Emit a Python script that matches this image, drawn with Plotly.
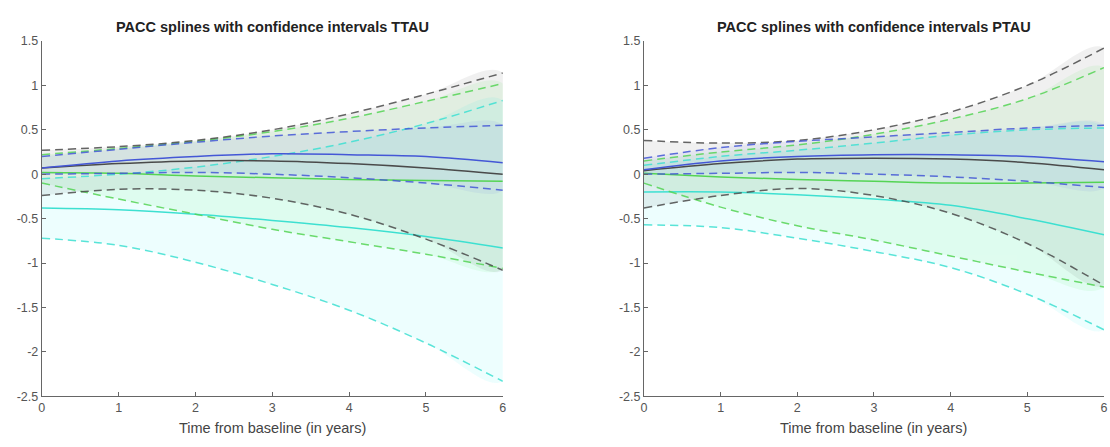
import plotly.graph_objects as go

years = [0, 1, 2, 3, 4, 5, 6]

# TTAU panel
ttau_blue_mean = [0.07, 0.15, 0.20, 0.23, 0.22, 0.20, 0.13]
ttau_blue_up = [0.20, 0.28, 0.36, 0.43, 0.48, 0.52, 0.55]
ttau_blue_lo = [0.00, 0.01, 0.02, 0.00, -0.04, -0.10, -0.18]
ttau_black_mean = [0.07, 0.12, 0.15, 0.15, 0.12, 0.07, 0.00]
ttau_black_up = [0.27, 0.31, 0.38, 0.50, 0.68, 0.90, 1.14]
ttau_black_lo = [-0.24, -0.17, -0.18, -0.27, -0.45, -0.73, -1.08]
ttau_green_mean = [0.02, 0.01, -0.02, -0.04, -0.06, -0.07, -0.08]
ttau_green_up = [0.22, 0.29, 0.37, 0.48, 0.63, 0.82, 1.02]
ttau_green_lo = [-0.10, -0.28, -0.45, -0.62, -0.76, -0.90, -1.06]
ttau_cyan_mean = [-0.38, -0.40, -0.45, -0.52, -0.60, -0.70, -0.83]
ttau_cyan_up = [-0.05, 0.00, 0.08, 0.20, 0.36, 0.57, 0.83]
ttau_cyan_lo = [-0.72, -0.80, -0.99, -1.24, -1.53, -1.90, -2.33]

# PTAU panel
ptau_blue_mean = [0.05, 0.15, 0.20, 0.22, 0.22, 0.20, 0.14]
ptau_blue_up = [0.18, 0.30, 0.37, 0.42, 0.47, 0.52, 0.55]
ptau_blue_lo = [0.00, 0.01, 0.02, 0.00, -0.03, -0.08, -0.15]
ptau_black_mean = [0.04, 0.12, 0.17, 0.18, 0.17, 0.13, 0.05]
ptau_black_up = [0.38, 0.35, 0.38, 0.50, 0.70, 1.00, 1.42]
ptau_black_lo = [-0.38, -0.24, -0.16, -0.24, -0.44, -0.78, -1.25]
ptau_green_mean = [0.01, -0.03, -0.06, -0.08, -0.10, -0.10, -0.09]
ptau_green_up = [0.15, 0.25, 0.33, 0.45, 0.62, 0.85, 1.20]
ptau_green_lo = [-0.10, -0.37, -0.58, -0.74, -0.92, -1.10, -1.27]
ptau_cyan_mean = [-0.20, -0.20, -0.23, -0.28, -0.35, -0.50, -0.68]
ptau_cyan_up = [0.10, 0.20, 0.27, 0.35, 0.44, 0.50, 0.52]
ptau_cyan_lo = [-0.57, -0.60, -0.72, -0.87, -1.05, -1.35, -1.75]

titles = ["PACC splines with confidence intervals TTAU",
          "PACC splines with confidence intervals PTAU"]
x_label = "Time from baseline (in years)"
y_tickvals = [1.5, 1, 0.5, 0, -0.5, -1, -1.5, -2, -2.5]
y_ticktext = ["1.5", "1", "0.5", "0", "-0.5", "-1", "-1.5", "-2", "-2.5"]
x_tickvals = [0, 1, 2, 3, 4, 5, 6]

line_colors = {"blue": "#4457d6", "black": "#4a4a4a", "green": "#55d455", "cyan": "#3fe0d2"}
fill_colors = {"blue": "rgba(60,80,230,0.07)", "black": "rgba(0,0,0,0.06)",
               "green": "rgba(40,220,40,0.07)", "cyan": "rgba(0,240,240,0.07)"}

panels = [
    {"blue": (ttau_blue_mean, ttau_blue_up, ttau_blue_lo),
     "black": (ttau_black_mean, ttau_black_up, ttau_black_lo),
     "green": (ttau_green_mean, ttau_green_up, ttau_green_lo),
     "cyan": (ttau_cyan_mean, ttau_cyan_up, ttau_cyan_lo)},
    {"blue": (ptau_blue_mean, ptau_blue_up, ptau_blue_lo),
     "black": (ptau_black_mean, ptau_black_up, ptau_black_lo),
     "green": (ptau_green_mean, ptau_green_up, ptau_green_lo),
     "cyan": (ptau_cyan_mean, ptau_cyan_up, ptau_cyan_lo)},
]

fig = go.Figure()
for i, panel in enumerate(panels):
    xa = "x" if i == 0 else "x2"
    ya = "y" if i == 0 else "y2"
    for key in ["cyan", "green", "black", "blue"]:
        mean, up, lo = panel[key]
        fig.add_trace(go.Scatter(x=years + years[::-1], y=up + lo[::-1], fill="toself",
                                 fillcolor=fill_colors[key], line=dict(width=0, shape="spline"),
                                 mode="lines", hoverinfo="skip", showlegend=False,
                                 xaxis=xa, yaxis=ya))
    for key in ["cyan", "green", "black", "blue"]:
        mean, up, lo = panel[key]
        for arr in (up, lo):
            fig.add_trace(go.Scatter(x=years, y=arr, mode="lines",
                                     line=dict(color=line_colors[key], width=1.5, dash="8px,5px",
                                               shape="spline"),
                                     opacity=0.85, showlegend=False, xaxis=xa, yaxis=ya))
        fig.add_trace(go.Scatter(x=years, y=mean, mode="lines",
                                 line=dict(color=line_colors[key], width=1.5, shape="spline"),
                                 showlegend=False, xaxis=xa, yaxis=ya))

W, H = 1110, 447
dom_y = [(H - 402) / H, (H - 35) / H]
FONT = "Liberation Sans, Arial"
axis_common = dict(showline=True, linecolor="#666", linewidth=1, ticks="inside", ticklen=4,
                   tickcolor="#666", showgrid=False, zeroline=False,
                   tickfont=dict(family=FONT, size=12.5, color="#555"))
fig.update_layout(
    width=W, height=H, margin=dict(l=0, r=0, t=0, b=0),
    plot_bgcolor="white", paper_bgcolor="white",
    xaxis=dict(domain=[39 / W, 503 / W], range=[0, 6], tickvals=x_tickvals, anchor="y",
               **axis_common),
    yaxis=dict(domain=dom_y, range=[-2.5, 1.5], tickvals=y_tickvals, ticktext=y_ticktext,
               anchor="x", **axis_common),
    xaxis2=dict(domain=[645 / W, 1108 / W], range=[0, 6], tickvals=x_tickvals, anchor="y2",
                **axis_common),
    yaxis2=dict(domain=dom_y, range=[-2.5, 1.5], tickvals=y_tickvals, ticktext=y_ticktext,
                anchor="x2", **axis_common),
)
centers = [(39 + 503) / 2 / W, (645 + 1108) / 2 / W]
for i, t in enumerate(titles):
    fig.add_annotation(text="<b>" + t + "</b>", x=centers[i], y=(H - 21) / H, xref="paper",
                       yref="paper", showarrow=False, xanchor="center", yanchor="middle",
                       font=dict(family=FONT, size=14.5, color="#222"))
    fig.add_annotation(text=x_label, x=centers[i], y=(H - 435) / H, xref="paper",
                       yref="paper", showarrow=False, xanchor="center", yanchor="middle",
                       font=dict(family=FONT, size=14.5, color="#444"))

fig.write_html("out.html")
